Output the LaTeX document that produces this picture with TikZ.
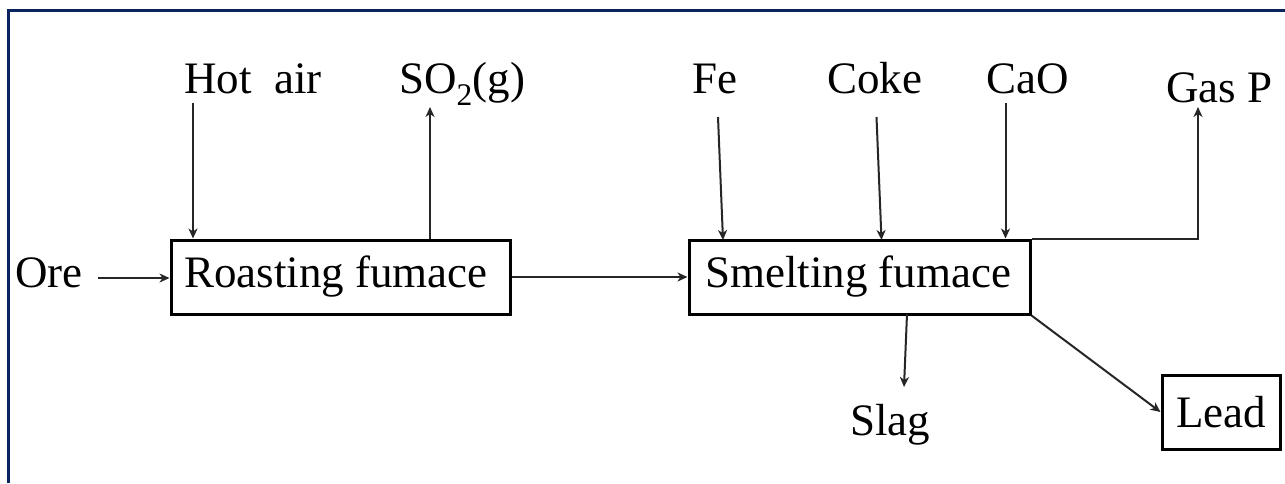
\documentclass[tikz,border=0pt]{standalone}
\usepackage{fontspec}
\setmainfont{Liberation Serif}
\usetikzlibrary{arrows.meta}
\definecolor{framec}{RGB}{10,35,95}
\begin{document}
\begin{tikzpicture}[x=1pt,y=-1pt,
  lbl/.style={inner sep=0pt, anchor=base west, font=\rmfamily\fontsize{45}{54}\selectfont},
  boxn/.style={draw, line width=3pt, inner ysep=0pt, minimum height=74pt, font=\rmfamily\fontsize{45}{54}\selectfont},
  arr/.style={line width=2pt, draw=black!85, -{Stealth[length=10pt,width=9pt,inset=3pt]}}]
\useasboundingbox (0,0) rectangle (1285,483);
% frame
\draw[framec, line width=3pt] (8.5,483) -- (8.5,10.5) -- (1285,10.5);
% boxes
\node[boxn, inner xsep=13pt] (roast) at (340.5,277) {\makebox[313pt][l]{Roasting fumace}};
\node[boxn, inner xsep=16pt] (smelt) at (859.5,277) {\makebox[309pt][l]{Smelting fumace}};
\node[boxn, inner xsep=14pt] (lead) at (1221,412) {\makebox[90pt][l]{Lead}};
% labels
\node[lbl] (ore) at (15,287) {Ore};
\node[lbl] (hot) at (184,93) {Hot~~air};
\node[lbl] (so2) at (399,93) {SO\textsubscript{2}(g)};
\node[lbl] (fe) at (692,93) {Fe};
\node[lbl] (coke) at (827,93) {Coke};
\node[lbl] (cao) at (986,93) {CaO};
\node[lbl] (gasp) at (1166,102) {Gas P};
\node[lbl] (slag) at (850,435) {Slag};
% connector ends
\coordinate (oreS) at (98,278);
\coordinate (hotS) at (193,103);
\coordinate (so2E) at (430,107);
\coordinate (feS) at (718,117);
\coordinate (feE) at (723,240);
\coordinate (cokeS) at (876.5,117);
\coordinate (cokeE) at (881.5,240);
\coordinate (caoS) at (1005.5,103);
\coordinate (gasE) at (1198,107);
\coordinate (slagS) at (907,314);
\coordinate (slagE) at (904,387);
% connectors
\draw[arr] (oreS) -- (oreS -| roast.west);
\draw[arr] (hotS) -- (hotS |- roast.north);
\draw[arr] (so2E |- roast.north) -- (so2E);
\draw[arr] (roast.east) -- (smelt.west);
\draw[arr] (feS) -- (feE);
\draw[arr] (cokeS) -- (cokeE);
\draw[arr] (caoS) -- (caoS |- smelt.north);
\draw[arr] (smelt.north east) -- (smelt.north east -| gasE) -- (gasE);
\draw[arr] (slagS) -- (slagE);
\draw[arr] (smelt.south east) -- (lead.west);
\end{tikzpicture}
\end{document}
